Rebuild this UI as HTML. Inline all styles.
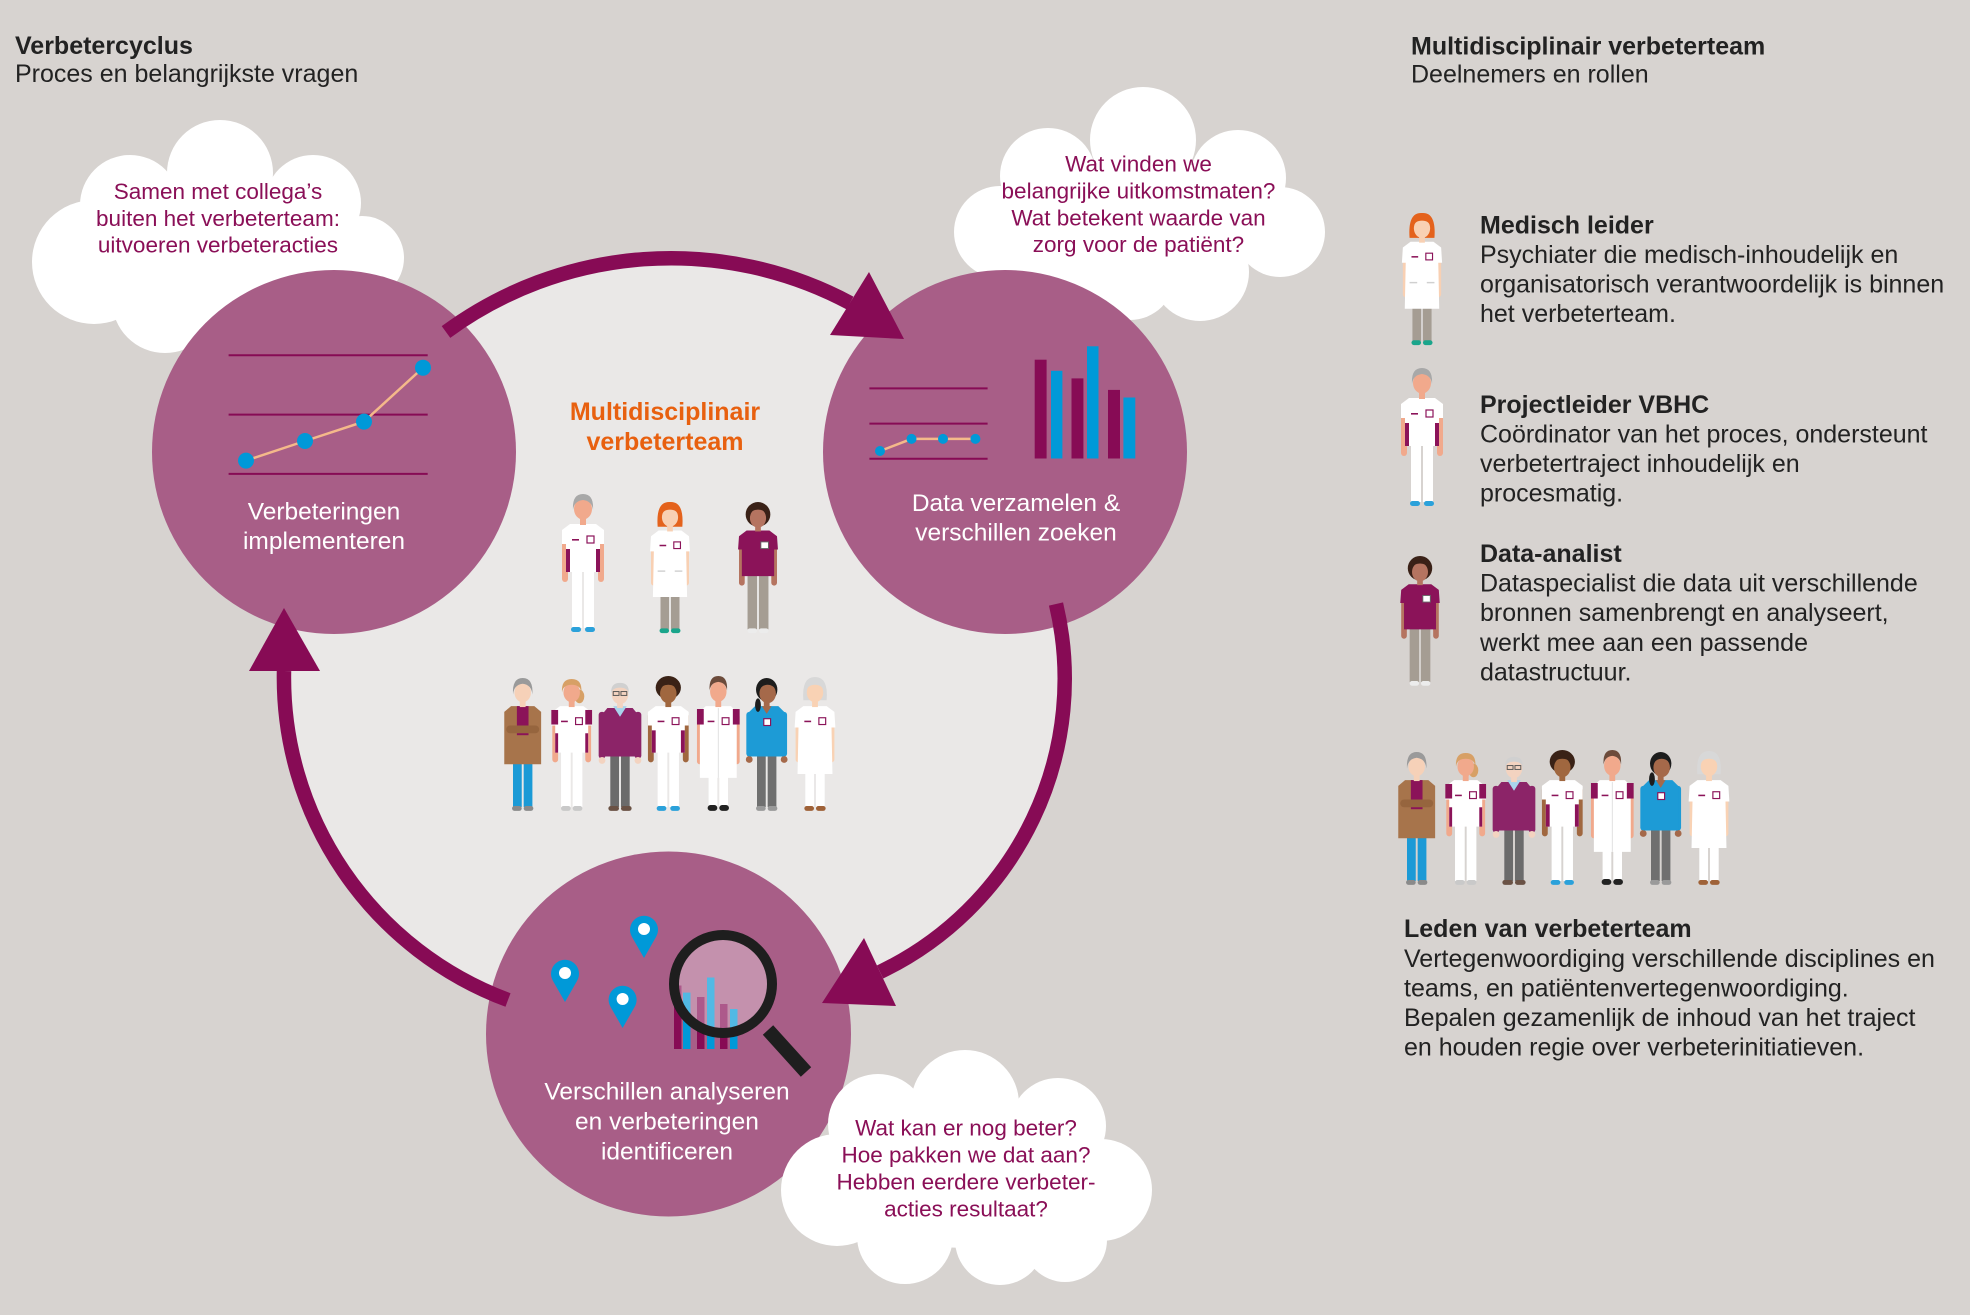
<!DOCTYPE html>
<html>
<head>
<meta charset="utf-8">
<style>
html,body{margin:0;padding:0;background:#d7d3d0;}
svg{display:block;}
text{font-family:"Liberation Sans",Arial,sans-serif;}
</style>
</head>
<body>
<svg width="1970" height="1315" viewBox="0 0 1970 1315" xmlns="http://www.w3.org/2000/svg">
<defs>
<!-- Grey-haired nurse -->
<g id="pA">
<rect x="-21" y="37" width="6" height="51" rx="3" fill="#f1a98c"/>
<rect x="15" y="37" width="6" height="51" rx="3" fill="#f1a98c"/>
<rect x="-11" y="76" width="10" height="58" fill="#fff"/>
<rect x="1" y="76" width="10" height="58" fill="#fff"/>
<rect x="-12" y="133" width="10" height="5" rx="2.5" fill="#2ba1da"/>
<rect x="2" y="133" width="10" height="5" rx="2.5" fill="#2ba1da"/>
<path d="M-13 30 L13 30 L21 36 L21 50 L17 50 L17 78 L-17 78 L-17 50 L-21 50 L-21 36 Z" fill="#fff"/>
<rect x="-17" y="55" width="4" height="23" fill="#8b1359"/>
<rect x="13" y="55" width="4" height="23" fill="#8b1359"/>
<rect x="-11" y="45" width="7" height="1.6" fill="#8b1359"/>
<rect x="4" y="42" width="7" height="7" fill="#fff" stroke="#8b1359" stroke-width="1.2"/>
<rect x="-3" y="23" width="6" height="8" fill="#f1a98c"/>
<ellipse cx="0" cy="15" rx="9" ry="10.5" fill="#f1a98c"/>
<path d="M-10 16 Q-11 0 0 0 Q11 0 10 16 Q9 7 0 6 Q-9 7 -10 16Z" fill="#a8a8a8"/>
</g>
<!-- Red-haired doctor -->
<g id="pB">
<rect x="-20" y="38" width="6" height="50" rx="3" fill="#f8d0b3"/>
<rect x="14" y="38" width="6" height="50" rx="3" fill="#f8d0b3"/>
<rect x="-10" y="98" width="9" height="36" fill="#a59d93"/>
<rect x="1" y="98" width="9" height="36" fill="#a59d93"/>
<rect x="-11" y="133" width="10" height="5" rx="2.5" fill="#1aa58b"/>
<rect x="1" y="133" width="10" height="5" rx="2.5" fill="#1aa58b"/>
<path d="M-12 30 L12 30 L20 36 L21 52 L17 52 L18 100 L-18 100 L-17 52 L-21 52 L-20 36 Z" fill="#fff"/>
<rect x="-13" y="72" width="8" height="1.5" fill="#d0d0d0"/>
<rect x="5" y="72" width="8" height="1.5" fill="#d0d0d0"/>
<rect x="-11" y="45" width="7" height="1.6" fill="#8b1359"/>
<rect x="4" y="42" width="7" height="7" fill="#fff" stroke="#8b1359" stroke-width="1.2"/>
<path d="M-13 26 Q-15 -1 0 0 Q15 -1 13 26 Z" fill="#e4621c"/>
<rect x="-3" y="23" width="6" height="8" fill="#f8d0b3"/>
<ellipse cx="0" cy="16" rx="8.5" ry="10" fill="#f8d0b3"/>
<path d="M-9 14 Q-8 3 0 3 Q8 3 9 14 Q7 8 0 8 Q-7 8 -9 14Z" fill="#e4621c"/>
</g>
<!-- Data analyst -->
<g id="pC">
<rect x="-20" y="38" width="6" height="50" rx="3" fill="#b57460"/>
<rect x="14" y="38" width="6" height="50" rx="3" fill="#b57460"/>
<rect x="-11" y="76" width="10" height="58" fill="#a59d93"/>
<rect x="1" y="76" width="10" height="58" fill="#a59d93"/>
<rect x="-11" y="133" width="10" height="5" rx="2.5" fill="#ececec"/>
<rect x="1" y="133" width="10" height="5" rx="2.5" fill="#ececec"/>
<path d="M-12 30 L12 30 L20 36 L21 50 L17 50 L17 78 L-17 78 L-17 50 L-21 50 L-20 36 Z" fill="#8b1359"/>
<rect x="3" y="42" width="8" height="7" fill="#fff" stroke="#666" stroke-width="1"/>
<ellipse cx="0" cy="13" rx="13" ry="13" fill="#3a2117"/>
<rect x="-3" y="23" width="6" height="8" fill="#b57460"/>
<ellipse cx="0" cy="17" rx="8.5" ry="10" fill="#b57460"/>
<path d="M-10 14 Q-9 4 0 4 Q9 4 10 14 Q7 8 0 8 Q-7 8 -10 14Z" fill="#3a2117"/>
</g>
<!-- Cardigan woman -->
<g id="pD">
<rect x="-10" y="84" width="9" height="50" fill="#1b9ad6"/>
<rect x="1" y="84" width="9" height="50" fill="#1b9ad6"/>
<rect x="-11" y="133" width="10" height="5" rx="2.5" fill="#8a8a8a"/>
<rect x="1" y="133" width="10" height="5" rx="2.5" fill="#8a8a8a"/>
<path d="M-12 30 L12 30 L19 36 L19 90 L-19 90 L-19 36 Z" fill="#a7744b"/>
<rect x="-6" y="30" width="12" height="30" fill="#8b1359"/>
<rect x="-17" y="50" width="34" height="8" rx="4" fill="#96653e"/>
<rect x="-3" y="23" width="6" height="8" fill="#f6d1b8"/>
<ellipse cx="0" cy="16" rx="8.5" ry="10" fill="#f6d1b8"/>
<path d="M-10 18 Q-11 1 0 1 Q11 1 10 18 Q9 8 0 7 Q-9 8 -10 18Z" fill="#9a9a9a"/>
</g>
<!-- Blond nurse -->
<g id="pE">
<rect x="-20" y="38" width="6" height="50" rx="3" fill="#f1a98c"/>
<rect x="14" y="38" width="6" height="50" rx="3" fill="#f1a98c"/>
<rect x="-11" y="76" width="10" height="58" fill="#fff"/>
<rect x="1" y="76" width="10" height="58" fill="#fff"/>
<rect x="-11" y="133" width="10" height="5" rx="2.5" fill="#c9c9c9"/>
<rect x="1" y="133" width="10" height="5" rx="2.5" fill="#c9c9c9"/>
<path d="M-12 30 L12 30 L20 36 L21 50 L17 50 L17 78 L-17 78 L-17 50 L-21 50 L-20 36 Z" fill="#fff"/>
<rect x="-21" y="34" width="7" height="15" fill="#8b1359"/>
<rect x="14" y="34" width="7" height="15" fill="#8b1359"/>
<rect x="-17" y="58" width="3" height="20" fill="#8b1359"/>
<rect x="14" y="58" width="3" height="20" fill="#8b1359"/>
<rect x="-11" y="45" width="7" height="1.6" fill="#8b1359"/>
<rect x="4" y="42" width="7" height="7" fill="#fff" stroke="#8b1359" stroke-width="1.2"/>
<ellipse cx="8" cy="20" rx="5" ry="7" fill="#d7a066"/>
<rect x="-3" y="23" width="6" height="8" fill="#f1a98c"/>
<ellipse cx="0" cy="16" rx="8.5" ry="10" fill="#f1a98c"/>
<path d="M-10 16 Q-11 2 0 2 Q11 2 10 16 Q9 8 0 8 Q-9 8 -10 16Z" fill="#d7a066"/>
</g>
<!-- Old man -->
<g id="pF">
<rect x="-10" y="80" width="9" height="54" fill="#6b6b6b"/>
<rect x="1" y="80" width="9" height="54" fill="#6b6b6b"/>
<rect x="-12" y="133" width="11" height="5" rx="2.5" fill="#6a5245"/>
<rect x="1" y="133" width="11" height="5" rx="2.5" fill="#6a5245"/>
<rect x="-22" y="36" width="7" height="48" rx="3" fill="#8c2468"/>
<rect x="15" y="36" width="7" height="48" rx="3" fill="#8c2468"/>
<circle cx="-18.5" cy="86" r="3.5" fill="#f3d3c0"/>
<circle cx="18.5" cy="86" r="3.5" fill="#f3d3c0"/>
<path d="M-13 32 L13 32 L18 38 L18 82 L-18 82 L-18 38 Z" fill="#8c2468"/>
<path d="M-7 30 L7 30 L0 41 Z" fill="#a9d4ec"/>
<rect x="-3" y="24" width="6" height="8" fill="#f3d3c0"/>
<ellipse cx="0" cy="18" rx="8.5" ry="10" fill="#f3d3c0"/>
<path d="M-9 17 Q-10 6 0 6 Q10 6 9 17 Q8 11 0 11 Q-8 11 -9 17Z" fill="#d0d0d0"/>
<rect x="-7" y="15" width="6" height="4" fill="none" stroke="#555" stroke-width="1"/>
<rect x="1" y="15" width="6" height="4" fill="none" stroke="#555" stroke-width="1"/>
</g>
<!-- Dark curly nurse -->
<g id="pG">
<rect x="-21" y="37" width="6" height="51" rx="3" fill="#a0673f"/>
<rect x="15" y="37" width="6" height="51" rx="3" fill="#a0673f"/>
<rect x="-11" y="76" width="10" height="58" fill="#fff"/>
<rect x="1" y="76" width="10" height="58" fill="#fff"/>
<rect x="-12" y="133" width="10" height="5" rx="2.5" fill="#2ba1da"/>
<rect x="2" y="133" width="10" height="5" rx="2.5" fill="#2ba1da"/>
<path d="M-13 30 L13 30 L21 36 L21 50 L17 50 L17 78 L-17 78 L-17 50 L-21 50 L-21 36 Z" fill="#fff"/>
<rect x="-17" y="55" width="4" height="23" fill="#8b1359"/>
<rect x="13" y="55" width="4" height="23" fill="#8b1359"/>
<rect x="-11" y="45" width="7" height="1.6" fill="#8b1359"/>
<rect x="4" y="42" width="7" height="7" fill="#fff" stroke="#8b1359" stroke-width="1.2"/>
<ellipse cx="0" cy="11" rx="13" ry="12" fill="#3a2216"/>
<rect x="-3" y="23" width="6" height="8" fill="#a0673f"/>
<ellipse cx="0" cy="17" rx="8.5" ry="10" fill="#a0673f"/>
<path d="M-10 14 Q-9 4 0 4 Q9 4 10 14 Q7 8 0 8 Q-7 8 -10 14Z" fill="#3a2216"/>
</g>
<!-- Male doctor -->
<g id="pH">
<rect x="-22" y="38" width="6" height="52" rx="3" fill="#f1a98c"/>
<rect x="16" y="38" width="6" height="52" rx="3" fill="#f1a98c"/>
<rect x="-10" y="100" width="9" height="34" fill="#fff"/>
<rect x="1" y="100" width="9" height="34" fill="#fff"/>
<rect x="-11" y="132" width="10" height="6" rx="3" fill="#222"/>
<rect x="1" y="132" width="10" height="6" rx="3" fill="#222"/>
<path d="M-13 30 L13 30 L19 36 L19 104 L-19 104 L-19 36 Z" fill="#fff"/>
<rect x="-22" y="33" width="7" height="16" fill="#8b1359"/>
<rect x="15" y="33" width="7" height="16" fill="#8b1359"/>
<line x1="0" y1="32" x2="0" y2="104" stroke="#e0e0e0" stroke-width="1"/>
<rect x="-11" y="45" width="7" height="1.6" fill="#8b1359"/>
<rect x="4" y="42" width="7" height="7" fill="#fff" stroke="#8b1359" stroke-width="1.2"/>
<rect x="-3" y="23" width="6" height="8" fill="#f1a98c"/>
<ellipse cx="0" cy="15" rx="8.5" ry="10.5" fill="#f1a98c"/>
<path d="M-9 14 Q-10 -1 0 -1 Q10 -1 9 14 Q8 6 0 5 Q-8 6 -9 14Z" fill="#6c4b3b"/>
</g>
<!-- Woman blue top -->
<g id="pI">
<rect x="-10" y="80" width="9" height="54" fill="#6f6f6f"/>
<rect x="1" y="80" width="9" height="54" fill="#6f6f6f"/>
<rect x="-11" y="133" width="10" height="5" rx="2.5" fill="#9a9a9a"/>
<rect x="1" y="133" width="10" height="5" rx="2.5" fill="#9a9a9a"/>
<rect x="-21" y="36" width="6" height="46" rx="3" fill="#1d9bd6"/>
<rect x="15" y="36" width="6" height="46" rx="3" fill="#1d9bd6"/>
<circle cx="-18" cy="85" r="3.5" fill="#a5694a"/>
<circle cx="18" cy="85" r="3.5" fill="#a5694a"/>
<path d="M-12 30 L12 30 L18 36 L18 82 L-18 82 L-18 36 Z" fill="#1d9bd6"/>
<path d="M-5 30 L5 30 L0 38 Z" fill="#a5694a"/>
<rect x="-3" y="43" width="7" height="7" fill="#fff" stroke="#8b1359" stroke-width="1.2"/>
<ellipse cx="-9" cy="29" rx="3" ry="7" fill="#1d1d1d"/>
<ellipse cx="0" cy="13" rx="11" ry="12" fill="#1d1d1d"/>
<rect x="-3" y="23" width="6" height="8" fill="#a5694a"/>
<ellipse cx="1" cy="17" rx="8.5" ry="10" fill="#a5694a"/>
<path d="M-8 13 Q-6 4 1 4 Q9 4 10 13 Q6 8 1 8 Q-4 8 -8 13Z" fill="#1d1d1d"/>
</g>
<!-- Old woman white coat -->
<g id="pJ">
<rect x="-20" y="38" width="6" height="50" rx="3" fill="#f9d2b4"/>
<rect x="14" y="38" width="6" height="50" rx="3" fill="#f9d2b4"/>
<rect x="-10" y="98" width="9" height="36" fill="#fff"/>
<rect x="1" y="98" width="9" height="36" fill="#fff"/>
<rect x="-11" y="133" width="10" height="5" rx="2.5" fill="#9f6238"/>
<rect x="1" y="133" width="10" height="5" rx="2.5" fill="#9f6238"/>
<path d="M-12 30 L12 30 L20 36 L21 52 L17 52 L18 100 L-18 100 L-17 52 L-21 52 L-20 36 Z" fill="#fff"/>
<rect x="-11" y="45" width="7" height="1.6" fill="#8b1359"/>
<rect x="4" y="42" width="7" height="7" fill="#fff" stroke="#8b1359" stroke-width="1.2"/>
<path d="M-12 24 Q-14 0 0 0 Q14 0 12 24 Z" fill="#d8d8d8"/>
<rect x="-3" y="23" width="6" height="8" fill="#f9d2b4"/>
<ellipse cx="0" cy="16" rx="8.5" ry="10" fill="#f9d2b4"/>
<path d="M-9 14 Q-8 4 0 4 Q8 4 9 14 Q7 8 0 8 Q-7 8 -9 14Z" fill="#d8d8d8"/>
</g>
<g id="grp">
<use href="#pD" transform="translate(522.7,677) scale(0.97)"/>
<use href="#pE" transform="translate(571.7,677) scale(0.97)"/>
<use href="#pF" transform="translate(620,677) scale(0.97)"/>
<use href="#pG" transform="translate(668.3,677) scale(0.97)"/>
<use href="#pH" transform="translate(718.3,677) scale(0.97)"/>
<use href="#pI" transform="translate(766.7,677) scale(0.97)"/>
<use href="#pJ" transform="translate(815,677) scale(0.97)"/>
</g>
</defs>

<!-- background -->
<rect x="0" y="0" width="1970" height="1315" fill="#d7d3d0"/>

<!-- light inner region -->
<path d="M446 332 A380 380 0 0 1 850 303 L904 338 L1056 604 A325 325 0 0 1 880 972 L822 1003 L508 1000 A344 344 0 0 1 284 671 L284 608 Z" fill="#eae8e7"/>

<!-- TL cloud -->
<g fill="#fff">
<circle cx="220" cy="173" r="53"/>
<circle cx="130" cy="205" r="50"/>
<circle cx="313" cy="203" r="48"/>
<circle cx="94" cy="262" r="62"/>
<circle cx="362" cy="258" r="42"/>
<circle cx="165" cy="300" r="53"/>
<circle cx="250" cy="290" r="60"/>
<circle cx="305" cy="295" r="50"/>
<ellipse cx="230" cy="240" rx="130" ry="62"/>
</g>
<!-- TR cloud -->
<g fill="#fff">
<circle cx="1143" cy="140" r="53"/>
<circle cx="1048" cy="176" r="48"/>
<circle cx="1238" cy="178" r="48"/>
<circle cx="1000" cy="232" r="46"/>
<circle cx="1280" cy="232" r="45"/>
<circle cx="1200" cy="272" r="49"/>
<circle cx="1130" cy="275" r="45"/>
<circle cx="1060" cy="270" r="45"/>
<ellipse cx="1140" cy="222" rx="130" ry="62"/>
</g>

<!-- purple circles -->
<circle cx="334" cy="452" r="182" fill="#a85e87"/>
<circle cx="1005" cy="452" r="182" fill="#a85e87"/>
<circle cx="668.5" cy="1034" r="182.5" fill="#a85e87"/>

<!-- bottom cloud (in front of bottom circle) -->
<g fill="#fff">
<circle cx="965" cy="1104" r="54"/>
<circle cx="878" cy="1124" r="50"/>
<circle cx="1058" cy="1126" r="48"/>
<circle cx="837" cy="1190" r="56"/>
<circle cx="1101" cy="1190" r="51"/>
<circle cx="905" cy="1236" r="48"/>
<circle cx="1000" cy="1240" r="45"/>
<circle cx="1065" cy="1240" r="42"/>
<ellipse cx="966" cy="1178" rx="140" ry="70"/>
</g>

<!-- arcs -->
<g fill="none" stroke="#870b55" stroke-width="14.5">
<path d="M446 332 A380 380 0 0 1 850 303"/>
<path d="M1056 604 A325 325 0 0 1 880 972"/>
<path d="M508 1000 A344 344 0 0 1 284 671"/>
</g>
<g fill="#870b55">
<polygon points="869,272 830,335 904,339"/>
<polygon points="864,938 822,1003 896,1006"/>
<polygon points="284,608 249,671 320,671"/>
</g>

<!-- TL chart -->
<g stroke="#870b55" stroke-width="2">
<line x1="228.6" y1="355.3" x2="427.7" y2="355.3"/>
<line x1="228.6" y1="414.6" x2="427.7" y2="414.6"/>
<line x1="228.6" y1="473.9" x2="427.7" y2="473.9"/>
</g>
<polyline points="246,460.6 305,441 364,421.6 423,367.7" fill="none" stroke="#f4b98a" stroke-width="2.5"/>
<g fill="#0099d8">
<circle cx="246" cy="460.6" r="8"/>
<circle cx="305" cy="441" r="8"/>
<circle cx="364" cy="421.6" r="8"/>
<circle cx="423" cy="367.7" r="8"/>
</g>

<!-- TR chart -->
<g stroke="#870b55" stroke-width="2">
<line x1="869.4" y1="388.4" x2="987.6" y2="388.4"/>
<line x1="869.4" y1="423.6" x2="987.6" y2="423.6"/>
<line x1="869.4" y1="458.8" x2="987.6" y2="458.8"/>
</g>
<polyline points="880,451 911.5,438.9 943,438.9 975.4,438.9" fill="none" stroke="#f4b98a" stroke-width="2.5"/>
<g fill="#0099d8">
<circle cx="880" cy="451" r="5"/>
<circle cx="911.5" cy="438.9" r="5"/>
<circle cx="943" cy="438.9" r="5"/>
<circle cx="975.4" cy="438.9" r="5"/>
</g>
<rect x="1034.7" y="359.7" width="11.9" height="98.8" fill="#870b55"/>
<rect x="1051" y="370.8" width="11.4" height="87.7" fill="#0099d8"/>
<rect x="1071.5" y="378.4" width="11.9" height="80.1" fill="#870b55"/>
<rect x="1087" y="346.3" width="11.5" height="112.2" fill="#0099d8"/>
<rect x="1108" y="389.9" width="12" height="68.6" fill="#870b55"/>
<rect x="1123.4" y="397.5" width="11.9" height="61" fill="#0099d8"/>

<!-- bottom icons: pins -->
<g fill="#0099d8">
<path d="M644 958 L632 937 A14 14 0 1 1 656 937 Z"/>
<path d="M565 1002 L553 981 A14 14 0 1 1 577 981 Z"/>
<path d="M622.6 1028 L610.6 1007 A14 14 0 1 1 634.6 1007 Z"/>
</g>
<g fill="#fff">
<circle cx="644" cy="929" r="6"/>
<circle cx="565" cy="973" r="6"/>
<circle cx="622.6" cy="999" r="6"/>
</g>
<!-- bars under magnifier -->
<rect x="674" y="985.5" width="7.5" height="63.5" fill="#870b55"/>
<rect x="683" y="992.6" width="7.5" height="56.4" fill="#0099d8"/>
<rect x="697" y="997" width="7.5" height="52" fill="#870b55"/>
<rect x="707" y="977.5" width="7.5" height="71.5" fill="#0099d8"/>
<rect x="720" y="1004" width="7.5" height="45" fill="#870b55"/>
<rect x="730" y="1009" width="7.5" height="40" fill="#0099d8"/>
<!-- magnifier -->
<circle cx="723" cy="984" r="49" fill="#ffffff" fill-opacity="0.32" stroke="#1e1e1e" stroke-width="10"/>
<line x1="768" y1="1030" x2="806" y2="1072" stroke="#1e1e1e" stroke-width="14"/>

<!-- middle people -->
<use href="#pA" transform="translate(583,494)"/>
<use href="#pB" transform="translate(670,502) scale(0.95)"/>
<use href="#pC" transform="translate(758,502) scale(0.95)"/>
<use href="#grp"/>

<!-- right column people -->
<use href="#pB" transform="translate(1422,213) scale(0.957)"/>
<use href="#pA" transform="translate(1422,368)"/>
<use href="#pC" transform="translate(1420,556) scale(0.94)"/>
<use href="#grp" transform="translate(894,74)"/>

<!-- headings -->
<text x="15" y="54" font-size="25" font-weight="bold" fill="#222">Verbetercyclus</text>
<text x="15" y="82" font-size="25" fill="#222">Proces en belangrijkste vragen</text>
<text x="1411" y="54.5" font-size="25" font-weight="bold" fill="#222">Multidisciplinair verbeterteam</text>
<text x="1411" y="82.5" font-size="25" fill="#222">Deelnemers en rollen</text>

<!-- cloud texts -->
<g font-size="22.5" fill="#8a0f57" text-anchor="middle">
<text x="218" y="199">Samen met collega’s</text>
<text x="218" y="226">buiten het verbeterteam:</text>
<text x="218" y="252.7">uitvoeren verbeteracties</text>
<text x="1138.5" y="171.7">Wat vinden we</text>
<text x="1138.5" y="198.5">belangrijke uitkomstmaten?</text>
<text x="1138.5" y="225.3">Wat betekent waarde van</text>
<text x="1138.5" y="252">zorg voor de patiënt?</text>
<text x="966" y="1135.5">Wat kan er nog beter?</text>
<text x="966" y="1162.5">Hoe pakken we dat aan?</text>
<text x="966" y="1189.5">Hebben eerdere verbeter-</text>
<text x="966" y="1216.5">acties resultaat?</text>
</g>

<!-- circle texts -->
<g font-size="24.5" fill="#fff" text-anchor="middle">
<text x="324" y="519.5">Verbeteringen</text>
<text x="324" y="549">implementeren</text>
<text x="1016" y="511">Data verzamelen &amp;</text>
<text x="1016" y="540.5">verschillen zoeken</text>
<text x="667" y="1099.5">Verschillen analyseren</text>
<text x="667" y="1129.5">en verbeteringen</text>
<text x="667" y="1159.5">identificeren</text>
</g>

<!-- center orange title -->
<g font-size="25" font-weight="bold" fill="#e8600f" text-anchor="middle">
<text x="665" y="420">Multidisciplinair</text>
<text x="665" y="450">verbeterteam</text>
</g>

<!-- right column text -->
<g font-size="25" fill="#222">
<text x="1480" y="233.5" font-weight="bold">Medisch leider</text>
<text x="1480" y="263">Psychiater die medisch-inhoudelijk en</text>
<text x="1480" y="292.5">organisatorisch verantwoordelijk is binnen</text>
<text x="1480" y="322">het verbeterteam.</text>

<text x="1480" y="413" font-weight="bold">Projectleider VBHC</text>
<text x="1480" y="442.5">Coördinator van het proces, ondersteunt</text>
<text x="1480" y="472">verbetertraject inhoudelijk en</text>
<text x="1480" y="501.5">procesmatig.</text>

<text x="1480" y="562" font-weight="bold">Data-analist</text>
<text x="1480" y="591.5">Dataspecialist die data uit verschillende</text>
<text x="1480" y="621">bronnen samenbrengt en analyseert,</text>
<text x="1480" y="651">werkt mee aan een passende</text>
<text x="1480" y="680.5">datastructuur.</text>

<text x="1404" y="937" font-weight="bold">Leden van verbeterteam</text>
<text x="1404" y="967">Vertegenwoordiging verschillende disciplines en</text>
<text x="1404" y="996.5">teams, en patiëntenvertegenwoordiging.</text>
<text x="1404" y="1026">Bepalen gezamenlijk de inhoud van het traject</text>
<text x="1404" y="1055.5">en houden regie over verbeterinitiatieven.</text>
</g>
</svg>
</body>
</html>
